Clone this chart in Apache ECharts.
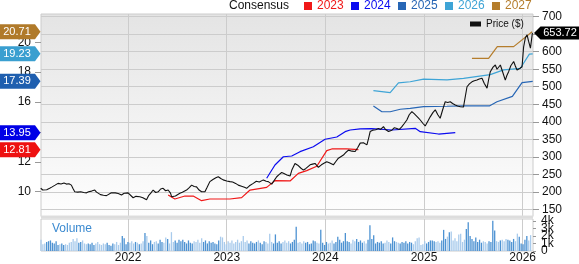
<!DOCTYPE html>
<html><head><meta charset="utf-8">
<script src="https://cdn.jsdelivr.net/npm/echarts@6/dist/echarts.min.js"></script>
<style>html,body{margin:0;padding:0;background:#fff}#c{width:579px;height:264px}</style>
</head><body><div id="c"></div>
<script>
const yearTicks = [2022, 2023, 2024, 2025, 2026];
const priceTicks = [150, 200, 250, 300, 350, 400, 450, 500, 550, 600, 650, 700];
const epsTicks = [10, 12, 14, 16, 18, 20];
const volumeTicksEven = [0, 2, 4];
const volumeTicksOdd = [1, 3];
const legendNames = ['2023', '2024', '2025', '2026', '2027'];

const priceYears = [2021.114,2021.135,2021.155,2021.175,2021.205,2021.23,2021.26,2021.289,2021.32,2021.35,2021.375,2021.40,2021.425,2021.44,2021.459,2021.49,2021.52,2021.55,2021.578,2021.60,2021.63,2021.662,2021.68,2021.695,2021.72,2021.75,2021.781,2021.80,2021.83,2021.848,2021.87,2021.90,2021.933,2021.96,2022.0,2022.02,2022.051,2022.08,2022.10,2022.119,2022.15,2022.17,2022.187,2022.21,2022.23,2022.254,2022.28,2022.305,2022.33,2022.355,2022.38,2022.406,2022.43,2022.441,2022.457,2022.48,2022.50,2022.525,2022.55,2022.57,2022.593,2022.62,2022.644,2022.67,2022.694,2022.72,2022.745,2022.779,2022.80,2022.829,2022.86,2022.89,2022.914,2022.94,2022.964,2023.0,2023.032,2023.06,2023.09,2023.117,2023.15,2023.18,2023.202,2023.23,2023.269,2023.30,2023.33,2023.371,2023.40,2023.421,2023.456,2023.48,2023.507,2023.53,2023.557,2023.58,2023.61,2023.642,2023.66,2023.692,2023.72,2023.75,2023.777,2023.80,2023.82,2023.845,2023.87,2023.895,2023.929,2023.96,2023.99,2024.014,2024.04,2024.06,2024.081,2024.11,2024.132,2024.16,2024.183,2024.21,2024.234,2024.27,2024.302,2024.33,2024.353,2024.386,2024.40,2024.421,2024.44,2024.454,2024.48,2024.51,2024.538,2024.56,2024.589,2024.61,2024.64,2024.674,2024.70,2024.725,2024.75,2024.776,2024.80,2024.826,2024.85,2024.877,2024.90,2024.911,2024.94,2024.962,2024.99,2025.012,2025.04,2025.063,2025.09,2025.114,2025.14,2025.164,2025.19,2025.215,2025.24,2025.266,2025.29,2025.317,2025.34,2025.368,2025.40,2025.418,2025.436,2025.46,2025.486,2025.51,2025.537,2025.56,2025.588,2025.61,2025.639,2025.655,2025.672,2025.70,2025.723,2025.74,2025.756,2025.774,2025.80,2025.824,2025.84,2025.858,2025.88,2025.909,2025.925,2025.943,2025.97,2025.994,2026.010,2026.028,2026.045,2026.06,2026.079,2026.099];
const priceValues = [210,205,202,206,210,214,219,224,222,225,222,223,219,210,200,199,200,198,197,200,202,205,199,194,192,190,189,192,197,200,197,195,191,196,197,192,183,187,185,186,183,186,177,190,196,205,198,200,208,210,203,205,196,186,181,188,191,196,199,203,205,212,219,215,214,205,200,200,212,229,235,240,243,238,234,231,229,228,224,219,216,213,210,217,224,230,228,234,230,229,222,232,243,249,255,252,248,245,262,281,276,268,262,266,271,277,279,281,270,277,282,286,283,279,277,288,296,301,305,313,319,316,315,327,339,340,336,334,355,372,376,377,381,378,386,378,372,376,383,381,378,386,395,405,420,429,423,419,412,405,395,388,402,414,426,434,420,410,435,457,455,457,452,448,445,443,442,441,500,508,514,517,519,522,524,510,496,520,543,556,562,550,548,562,540,519,532,543,560,572,560,548,552,557,614,640,648,630,610,653.72];

const eps2023Years = [2022.406,2022.474,2022.576,2022.660,2022.745,2022.829,2023.032,2023.151,2023.236,2023.405,2023.489,2023.642,2023.726,2023.811,2023.913,2024.014,2024.065,2024.217,2024.335];
const eps2023Values = [9.78,9.51,9.71,9.71,9.40,9.51,9.51,9.60,10.11,10.29,10.74,10.72,11.23,11.41,11.70,12.75,12.86,12.86,12.81];
const eps2024Years = [2023.405,2023.489,2023.574,2023.659,2023.743,2023.878,2023.997,2024.116,2024.200,2024.251,2024.353,2024.471,2024.674,2024.911,2024.962,2025.147,2025.317];
const eps2024Values = [10.90,11.79,12.34,12.39,12.68,13.01,13.51,13.66,14.02,14.13,14.20,14.22,14.13,14.24,14.02,13.86,13.95];
const eps2025Years = [2024.487,2024.573,2024.657,2024.759,2024.860,2024.995,2025.233,2025.401,2025.662,2025.740,2025.896,2025.994,2026.102];
const eps2025Values = [15.74,15.35,15.35,15.52,15.58,15.70,15.72,15.74,15.74,16.02,16.38,17.30,17.39];
const eps2026Years = [2024.487,2024.657,2024.741,2024.860,2024.995,2025.233,2025.401,2025.672,2025.807,2025.977,2026.068,2026.102];
const eps2026Values = [16.76,16.63,17.28,17.36,17.54,17.48,17.59,17.84,18.15,18.26,19.21,19.23];
const eps2027Years = [2025.486,2025.655,2025.743,2025.909,2026.096];
const eps2027Values = [18.93,18.93,19.71,19.71,20.71];

const volumeStartYear = 2021.117;
const volumeWeek = 7 / 365.25;
const volumeValues = [
1.5,0.9,1.0,1.2,1.3,1.4,1.1,1.0,1.3,0.8,0.9,1.0,0.8,0.9,0.8,1.1,1.2,1.6,1.3,1.7,1.1,1.2,1.4,1.0,0.9,1.0,
0.9,1.1,0.8,1.0,1.2,0.9,0.8,1.0,0.9,1.1,0.8,0.7,1.0,0.9,1.2,0.8,1.1,2.0,1.7,
0.9,1.2,1.1,1.3,1.0,1.2,1.1,0.9,1.0,1.3,2.4,2.0,1.1,1.4,0.9,1.2,
1.3,1.0,1.5,1.2,1.1,1.8,1.6,1.0,2.5,1.2,1.4,1.1,1.5,1.3,1.5,
1.2,1.0,1.4,1.1,1.0,1.3,1.2,1.5,1.1,1.7,1.2,1.4,1.0,1.3,1.1,1.2,1.0,0.9,1.4,1.9,
1.8,1.2,0.9,1.3,1.1,1.4,1.0,1.2,1.5,1.1,1.3,2.0,1.2,1.4,1.0,1.3,1.1,1.0,1.2,1.4,1.1,0.9,1.3,1.2,1.0,
2.3,1.2,1.0,2.2,1.1,1.3,1.0,1.2,1.4,1.1,1.3,1.0,1.2,1.5,
3.2,
1.1,1.2,1.0,1.3,1.1,1.2,0.9,1.0,1.4,1.3,1.1,1.0,2.8,1.1,0.8,1.2,1.0,1.1,1.4,1.0,1.2,1.9,1.5,1.1,1.3,
2.4,1.3,1.2,1.0,1.5,1.3,1.6,1.2,1.4,1.1,1.3,1.0,1.5,3.4,1.6,2.1,
1.0,1.2,1.1,1.3,1.0,1.1,1.4,1.2,1.0,1.8,1.3,1.2,1.1,1.0,1.2,1.1,1.3,1.0,1.2,1.1,0.9,1.3,1.7,1.8,
0.8,0.9,1.3,1.0,1.2,1.4,1.4,1.3,1.2,1.3,1.1,1.4,2.8,1.6,1.9,2.5,2.6,1.4,1.7,1.3,2.2,2.3,1.2,1.5,2.9,
3.8,2.0,1.6,1.3,1.8,1.2,1.5,1.1,1.3,1.2,1.0,1.3,1.2,4.0,2.7,1.3,1.2,1.4,1.5,1.3,1.6,1.5,1.4,1.2,1.6,1.3,2.3,1.9,1.0,0.9,1.5,2.0,1.4,2.1];

const FONT = '"Liberation Sans", Arial, sans-serif';
const X_MIN = 2021.117, X_MAX = 2026.105;
const epsColors = ['#f01818', '#0a0af0', '#2766b5', '#3ea4d6', '#b57d2c'];
const tagColors = ['#ee1111', '#0000e6', '#1f5faf', '#3a9fd0', '#b07a2a'];

function zip(xs, ys) { return xs.map((x, i) => [x, ys[i]]); }
function priceAt(t) {
  if (t <= priceYears[0]) return priceValues[0];
  for (let i = 1; i < priceYears.length; i++) {
    if (t <= priceYears[i]) {
      const f = (t - priceYears[i-1]) / (priceYears[i] - priceYears[i-1]);
      return priceValues[i-1] + f * (priceValues[i] - priceValues[i-1]);
    }
  }
  return priceValues[priceValues.length - 1];
}
const volumeData = volumeValues.map((v, i) => [volumeStartYear + i * volumeWeek, v]);

const epsSets = [
  [eps2023Years, eps2023Values], [eps2024Years, eps2024Values], [eps2025Years, eps2025Values],
  [eps2026Years, eps2026Values], [eps2027Years, eps2027Values]
];

const chart = echarts.init(document.getElementById('c'), null, { renderer: 'canvas' });

const axisText = { color: '#111', fontSize: 12, fontFamily: FONT };
const series = epsSets.map((s, k) => ({
  name: legendNames[k], type: 'line', xAxisIndex: 0, yAxisIndex: 0,
  data: zip(s[0], s[1]), showSymbol: false, symbol: 'none', color: epsColors[k],
  lineStyle: { width: 1.2, color: epsColors[k] }, z: 3, animation: false
}));
series.push({
  name: 'Price ($)', type: 'line', xAxisIndex: 0, yAxisIndex: 1,
  data: zip(priceYears, priceValues), showSymbol: false, symbol: 'none', color: '#111',
  lineStyle: { width: 1.1, color: '#111' }, z: 4, animation: false
});
series.push({
  name: 'Volume', type: 'bar', xAxisIndex: 1, yAxisIndex: 2, barWidth: 1.3,
  data: volumeData, animation: false,
  itemStyle: { color: p => {
    const t = p.data[0];
    return priceAt(t) >= priceAt(t - volumeWeek) ? '#4d92d2' : '#a9cbec';
  } }
});

function volAxis(ticks) {
  return { type: 'value', gridIndex: 1, position: 'right', min: 0, max: 4.24,
    axisLine: { show: false }, splitLine: { show: false },
    axisTick: { show: true, length: 3, customValues: ticks, lineStyle: { color: '#999' } },
    axisLabel: { customValues: ticks, margin: 8, showMinLabel: true, showMaxLabel: true,
      formatter: v => v === 0 ? '0' : v + 'k', ...axisText } };
}

chart.setOption({
  animation: false,
  textStyle: { fontFamily: FONT },
  grid: [
    { left: 41, right: 46, top: 14, height: 202.5, show: true, borderColor: '#cccccc', borderWidth: 1,
      backgroundColor: new echarts.graphic.LinearGradient(0, 0, 0, 1, [
        { offset: 0, color: '#e4e4e4' }, { offset: 1, color: '#fefefe' }]) },
    { left: 41, right: 46, top: 219, height: 35, show: true, borderColor: '#cccccc', borderWidth: 1, backgroundColor: '#fff' }
  ],
  legend: [
    { data: legendNames.map((n, k) => ({ name: n, textStyle: { color: epsColors[k] } })),
      left: 304, top: 0, padding: 0, icon: 'rect', itemWidth: 8, itemHeight: 8, itemGap: 7.3,
      textStyle: { fontSize: 12, fontFamily: FONT }, selectedMode: false },
    { data: ['Price ($)'], left: 470, top: 19, padding: 0, icon: 'rect', itemWidth: 11, itemHeight: 5,
      textStyle: { fontSize: 10, fontFamily: FONT, color: '#111' }, selectedMode: false }
  ],
  xAxis: [
    { type: 'value', gridIndex: 0, min: X_MIN, max: X_MAX,
      axisLine: { show: false }, axisLabel: { show: false },
      axisTick: { show: false, customValues: yearTicks },
      splitLine: { show: true, lineStyle: { color: '#cccccc', width: 1 } } },
    { type: 'value', gridIndex: 1, min: X_MIN, max: X_MAX,
      axisLine: { show: false },
      axisTick: { show: false, customValues: yearTicks },
      axisLabel: { customValues: yearTicks, formatter: v => String(Math.round(v)), margin: 1, ...axisText },
      splitLine: { show: true, lineStyle: { color: '#cccccc', width: 1 } } }
  ],
  yAxis: [
    { type: 'value', gridIndex: 0, position: 'left', min: 8.34, max: 21.894,
      axisLine: { show: false }, splitLine: { show: false },
      axisTick: { show: true, length: 6, customValues: epsTicks, lineStyle: { color: '#999' } },
      axisLabel: { customValues: epsTicks, margin: 10, ...axisText } },
    { type: 'value', gridIndex: 0, position: 'right', min: 129.44, max: 707.7,
      axisLine: { show: false },
      axisTick: { show: true, length: 6, customValues: priceTicks, lineStyle: { color: '#999' } },
      axisLabel: { customValues: priceTicks, margin: 9, ...axisText },
      splitLine: { show: true, lineStyle: { color: '#cccccc', width: 1 } } },
    volAxis(volumeTicksEven),
    volAxis(volumeTicksOdd)
  ],
  series: series
});

function addTags() {
  const g = [];
  g.push({ type: 'text', left: 229, top: 0, z: 10,
    style: { text: 'Consensus', font: '12px ' + FONT, fill: '#111' } });
  g.push({ type: 'rect', shape: { x: 41, y: 215.5, width: 492, height: 3 }, style: { fill: '#dddddd' }, z: 10 });
  g.push({ type: 'text', left: 52, top: 223, z: 10,
    style: { text: 'Volume', font: '12px ' + FONT, fill: '#3b8ad0' } });
  epsSets.forEach((s, k) => {
    const v = s[1][s[1].length - 1];
    const y = chart.convertToPixel({ yAxisIndex: 0 }, v);
    g.push({ type: 'polygon', z: 20,
      shape: { points: [[0, y - 7.5], [35, y - 7.5], [40.5, y], [35, y + 7.5], [0, y + 7.5]] },
      style: { fill: tagColors[k] } });
    g.push({ type: 'text', z: 21, x: 17, y: y,
      style: { text: v.toFixed(2), font: '11px ' + FONT, fill: '#fff', align: 'center', verticalAlign: 'middle' } });
  });
  const pv = priceValues[priceValues.length - 1];
  const py = chart.convertToPixel({ yAxisIndex: 1 }, pv);
  g.push({ type: 'polygon', z: 20,
    shape: { points: [[534, py], [540.5, py - 6.5], [579, py - 6.5], [579, py + 6.5], [540.5, py + 6.5]] },
    style: { fill: '#000' } });
  g.push({ type: 'text', z: 21, x: 560, y: py,
    style: { text: pv.toFixed(2), font: '11px ' + FONT, fill: '#fff', align: 'center', verticalAlign: 'middle' } });
  chart.setOption({ graphic: g });
}
addTags();
</script></body></html>
